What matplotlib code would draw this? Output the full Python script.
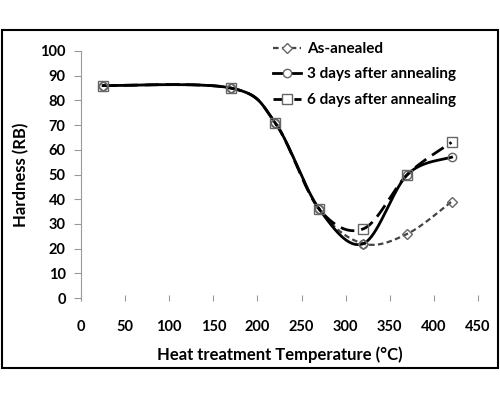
import numpy as np
import matplotlib
matplotlib.use('Agg')
import matplotlib.pyplot as plt
from matplotlib.patches import Rectangle

temps = [25, 170, 220, 270, 320, 370, 420]
as_annealed = [86, 85, 71, 36, 22, 26, 39]
days3 = [86, 85, 71, 36, 22, 50, 57]
days6 = [86, 85, 71, 36, 28, 50, 63]

xticks = [0, 50, 100, 150, 200, 250, 300, 350, 400, 450]
yticks = [0, 10, 20, 30, 40, 50, 60, 70, 80, 90, 100]


def smooth(x, y, n=40):
    # Excel-like smoothed line (Catmull-Rom as cubic Bezier)
    pts = np.column_stack([x, y]).astype(float)
    out = []
    for i in range(len(pts) - 1):
        p0 = pts[max(i - 1, 0)]
        p1 = pts[i]
        p2 = pts[i + 1]
        p3 = pts[min(i + 2, len(pts) - 1)]
        c1 = p1 + (p2 - p0) / 6
        c2 = p2 - (p3 - p1) / 6
        t = np.linspace(0, 1, n)[:, None]
        seg = (1 - t)**3 * p1 + 3 * (1 - t)**2 * t * c1 + 3 * (1 - t) * t**2 * c2 + t**3 * p2
        out.append(seg if i == 0 else seg[1:])
    out = np.vstack(out)
    return out[:, 0], out[:, 1]


plt.rcParams['font.family'] = ['Lato', 'DejaVu Sans']
plt.rcParams['font.weight'] = 'bold'

fig = plt.figure(figsize=(5, 4), dpi=100)
ax = fig.add_axes([0.162, 0.255, 0.794, 0.6175])

series = [
    ('As-anealed', as_annealed, 'D', (0, (2.5, 1.5)), '#444444', 1.6, 5),
    ('3 days after annealing', days3, 'o', '-', 'black', 2.0, 6),
    ('6 days after annealing', days6, 's', (0, (5, 2.5)), 'black', 2.0, 7),
]
handles = []
for label, vals, mk, ls, col, lw, ms in series:
    sx, sy = smooth(temps, vals)
    ax.plot(sx, sy, color=col, linestyle=ls, linewidth=lw, zorder=2)
    ax.plot(temps, vals, linestyle='none', marker=mk, markersize=ms,
            markerfacecolor='none', markeredgecolor='#666666', markeredgewidth=1, zorder=3)
    h, = ax.plot([], [], color=col, linestyle=ls, linewidth=lw, marker=mk, markersize=ms,
                 markerfacecolor='white', markeredgecolor='#666666', markeredgewidth=1)
    handles.append(h)

ax.set_xlim(0, 450)
ax.set_ylim(0, 100)
ax.set_xticks(xticks)
ax.set_yticks(yticks)
for s in ['top', 'right', 'bottom']:
    ax.spines[s].set_visible(False)
ax.spines['left'].set_color('#999999')
ax.tick_params(axis='y', direction='out', length=5, color='#999999', labelsize=10.5, pad=6)
ax.tick_params(axis='x', direction='inout', length=4, color='#999999', labelsize=10.5, pad=14)
for lab in ax.get_xticklabels() + ax.get_yticklabels():
    lab.set_fontweight('bold')

ax.set_xlabel('Heat treatment Temperature (°C)', fontsize=12, fontweight='bold', labelpad=9)
ax.set_ylabel('Hardness (RB)', fontsize=12, fontweight='bold', labelpad=8)

fig.legend(handles, [s[0] for s in series], loc='upper left', bbox_to_anchor=(0.546, 0.895),
           frameon=False, handlelength=1.8, handletextpad=0.45, borderpad=0, borderaxespad=0,
           labelspacing=0.75, prop={'weight': 'bold', 'size': 11})

fig.patches.append(Rectangle((0.004, 0.08), 0.992, 0.845, transform=fig.transFigure,
                             fill=False, edgecolor='black', linewidth=1.5))

fig.savefig('out.png', dpi=100)
